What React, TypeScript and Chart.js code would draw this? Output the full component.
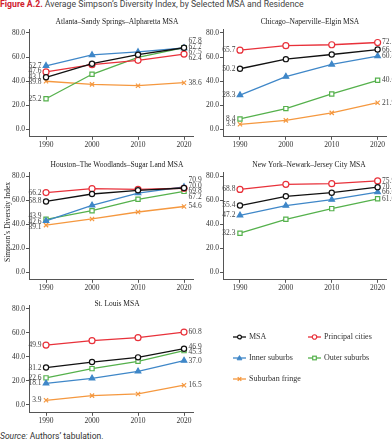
import React, { useEffect, useRef } from "react";
import { Chart, registerables } from "chart.js";
Chart.register(...registerables);

// ---------- data ----------
const years = [1990, 2000, 2010, 2020];
const seriesNames = ["MSA", "Principal cities", "Inner suburbs", "Outer suburbs", "Suburban fringe"];
const yTicks = [0, 20, 40, 60, 80];

const atlantaMSA = [43.1, 54.4, 61.9, 67.7];
const atlantaPrincipal = [47.6, 53.6, 57.2, 62.4];
const atlantaInner = [52.7, 61.7, 64.2, 67.5];
const atlantaOuter = [25.2, 45.6, 59.7, 67.8];
const atlantaFringe = [39.8, 37.2, 36.1, 38.6];

const chicagoMSA = [50.2, 58.2, 62.1, 66.2];
const chicagoPrincipal = [65.7, 69.4, 70.2, 72.1];
const chicagoInner = [28.3, 43.7, 53.8, 60.8];
const chicagoOuter = [8.4, 17.0, 29.2, 40.6];
const chicagoFringe = [3.9, 7.2, 13.4, 21.9];

const houstonMSA = [58.8, 65.0, 68.1, 70.0];
const houstonPrincipal = [66.2, 69.4, 68.9, 69.8];
const houstonInner = [42.6, 55.6, 65.8, 70.9];
const houstonOuter = [43.9, 51.1, 60.6, 67.2];
const houstonFringe = [39.1, 44.2, 50.0, 54.6];

const newYorkMSA = [55.4, 63.1, 66.1, 70.7];
const newYorkPrincipal = [68.8, 73.1, 73.6, 75.9];
const newYorkInner = [47.2, 55.3, 60.3, 66.6];
const newYorkOuter = [32.3, 43.9, 52.8, 61.0];

const stLouisMSA = [31.2, 35.8, 39.7, 46.9];
const stLouisPrincipal = [49.9, 53.6, 56.1, 60.8];
const stLouisInner = [18.1, 22.2, 28.1, 37.0];
const stLouisOuter = [22.6, 30.3, 36.4, 45.3];
const stLouisFringe = [3.9, 7.8, 9.2, 16.5];

// ---------- styles ----------
const SERIF = "'Liberation Serif', 'DejaVu Serif', serif";
const STYLES = [
  { color: "#111111", pointStyle: "circle", radius: 2.6, fill: "#ffffff" },
  { color: "#e8313a", pointStyle: "circle", radius: 3, fill: "#ffffff" },
  { color: "#3f87c8", pointStyle: "triangle", radius: 3.2, fill: "#3f87c8" },
  { color: "#55b14c", pointStyle: "rect", radius: 3, fill: "#ffffff" },
  { color: "#f5983f", pointStyle: "crossRot", radius: 3, fill: "#f5983f" },
];

const panels = [
  { title: "Atlanta–Sandy Springs–Alpharetta MSA", series: [atlantaMSA, atlantaPrincipal, atlantaInner, atlantaOuter, atlantaFringe], side: "L", y80: 33, titleX: 117, titleY: 22 },
  { title: "Chicago–Naperville–Elgin MSA", series: [chicagoMSA, chicagoPrincipal, chicagoInner, chicagoOuter, chicagoFringe], side: "R", y80: 33, titleX: 310, titleY: 22 },
  { title: "Houston–The Woodlands–Sugar Land MSA", series: [houstonMSA, houstonPrincipal, houstonInner, houstonOuter, houstonFringe], side: "L", y80: 176, titleX: 117, titleY: 165 },
  { title: "New York–Newark–Jersey City MSA", series: [newYorkMSA, newYorkPrincipal, newYorkInner, newYorkOuter, null], side: "R", y80: 176, titleX: 309, titleY: 165 },
  { title: "St. Louis MSA", series: [stLouisMSA, stLouisPrincipal, stLouisInner, stLouisOuter, stLouisFringe], side: "L", y80: 309, titleX: 117, titleY: 304 },
];

const Y_MIN = -6.5;
const Y_MAX = 83;
const X_MIN = 1986.3;
const X_MAX = 2022;
const PX_PER_UNIT = 1.2;
const AREA_H = (Y_MAX - Y_MIN) * PX_PER_UNIT;
const XAXIS_H = 14;

function spread(items: any[], gap: number) {
  items.sort((a, b) => a.y - b.y);
  const blocks: any[] = [];
  const topOf = (b: any) => b.sum / b.items.length - ((b.items.length - 1) * gap) / 2;
  for (const it of items) {
    blocks.push({ items: [it], sum: it.y });
    while (blocks.length > 1) {
      const b = blocks[blocks.length - 1];
      const a = blocks[blocks.length - 2];
      if (topOf(a) + a.items.length * gap > topOf(b)) {
        a.items = a.items.concat(b.items);
        a.sum += b.sum;
        blocks.pop();
      } else break;
    }
  }
  blocks.forEach((b) => {
    const t = topOf(b);
    b.items.forEach((it: any, k: number) => (it.ly = t + k * gap));
  });
}

const endLabels = {
  id: "endLabels",
  afterDatasetsDraw(chart: any) {
    const ctx = chart.ctx;
    const left: any[] = [];
    const right: any[] = [];
    chart.data.datasets.forEach((ds: any, i: number) => {
      const pts = chart.getDatasetMeta(i).data;
      const a = pts[0];
      const b = pts[pts.length - 1];
      left.push({ x: a.x, y: a.y, text: ds.data[0].y.toFixed(1) });
      right.push({ x: b.x, y: b.y, text: ds.data[ds.data.length - 1].y.toFixed(1) });
    });
    spread(left, 5.6);
    spread(right, 5.6);
    ctx.save();
    ctx.font = `7.5px ${SERIF}`;
    ctx.fillStyle = "#444";
    ctx.textBaseline = "middle";
    ctx.textAlign = "right";
    left.forEach((l) => ctx.fillText(l.text, l.x - 4.5, l.ly));
    ctx.textAlign = "left";
    right.forEach((r) => ctx.fillText(r.text, r.x + 4.5, r.ly));
    ctx.restore();
  },
};

function Panel({ p }: { p: any }) {
  const ref = useRef<HTMLCanvasElement>(null);
  const isL = p.side === "L";
  const canvasLeft = isL ? 0 : 196;
  const width = isL ? 212 : 196;
  const plotLeft = isL ? 29 : 223;
  const pxPerYear = 4.6;
  const plotRight = plotLeft + (X_MAX - X_MIN) * pxPerYear;
  const plotTop = p.y80 - (Y_MAX - 80) * PX_PER_UNIT;
  const canvasTop = Math.floor(plotTop - 6);
  const padTop = plotTop - canvasTop;
  const height = Math.ceil(padTop + AREA_H + XAXIS_H + 1);
  const padBottom = height - padTop - AREA_H - XAXIS_H;

  useEffect(() => {
    const datasets: any[] = [];
    p.series.forEach((vals: number[] | null, i: number) => {
      if (!vals) return;
      const s = STYLES[i];
      datasets.push({
        label: seriesNames[i],
        data: vals.map((v, j) => ({ x: years[j], y: v })),
        borderColor: s.color,
        backgroundColor: s.fill,
        pointBackgroundColor: s.fill,
        pointBorderColor: s.color,
        pointStyle: s.pointStyle,
        pointRadius: s.radius,
        pointBorderWidth: 1.2,
        borderWidth: 1.3,
        tension: 0,
        clip: false,
      });
    });
    const chart = new Chart(ref.current as HTMLCanvasElement, {
      type: "line",
      data: { datasets },
      options: {
        animation: false,
        responsive: false,
        events: [],
        layout: {
          padding: { left: 0, right: width - (plotRight - canvasLeft), top: padTop, bottom: padBottom },
        },
        plugins: { legend: { display: false }, tooltip: { enabled: false }, title: { display: false } },
        scales: {
          x: {
            type: "linear",
            min: X_MIN,
            max: X_MAX,
            afterBuildTicks: (s: any) => {
              s.ticks = years.map((v) => ({ value: v }));
            },
            afterFit: (s: any) => {
              s.height = XAXIS_H;
            },
            ticks: {
              callback: (v: any) => String(v),
              font: { family: SERIF, size: 7.5 },
              color: "#333",
              padding: 1,
              maxRotation: 0,
            },
            grid: { drawOnChartArea: false, drawTicks: true, tickLength: 3, color: "#555" },
            border: { display: true, color: "#555", width: 1 },
          },
          y: {
            type: "linear",
            min: Y_MIN,
            max: Y_MAX,
            afterBuildTicks: (s: any) => {
              s.ticks = yTicks.map((v) => ({ value: v }));
            },
            afterFit: (s: any) => {
              s.width = plotLeft - canvasLeft;
            },
            ticks: {
              callback: (v: any) => Number(v).toFixed(1),
              font: { family: SERIF, size: 7.5 },
              color: "#333",
              padding: 1,
            },
            grid: { drawOnChartArea: false, drawTicks: true, tickLength: 3, color: "#555" },
            border: { display: true, color: "#555", width: 1 },
          },
        },
      } as any,
      plugins: [endLabels],
    });
    return () => chart.destroy();
  }, []);

  return (
    <>
      <canvas
        ref={ref}
        width={width}
        height={height}
        style={{ position: "absolute", left: canvasLeft, top: canvasTop, width, height }}
      />
      <div
        style={{
          position: "absolute",
          left: p.titleX - 110,
          width: 220,
          top: p.titleY - 5,
          height: 10,
          lineHeight: "10px",
          textAlign: "center",
          fontFamily: SERIF,
          fontSize: 7.5,
          color: "#222",
          whiteSpace: "nowrap",
        }}
      >
        {p.title}
      </div>
    </>
  );
}

function LegendItem({ i, x, y }: { i: number; x: number; y: number }) {
  const s = STYLES[i];
  const c = 6.5;
  const cy = 5;
  const r = s.radius * 0.75;
  let m: any = null;
  if (s.pointStyle === "circle") m = <circle cx={c} cy={cy} r={r} fill={s.fill} stroke={s.color} strokeWidth={1.2} />;
  else if (s.pointStyle === "triangle")
    m = <polygon points={`${c},${cy - r} ${c - r},${cy + r * 0.75} ${c + r},${cy + r * 0.75}`} fill={s.fill} stroke={s.color} strokeWidth={1} />;
  else if (s.pointStyle === "rect")
    m = <rect x={c - r * 0.8} y={cy - r * 0.8} width={r * 1.6} height={r * 1.6} fill={s.fill} stroke={s.color} strokeWidth={1.2} />;
  else
    m = (
      <g stroke={s.color} strokeWidth={1.3}>
        <line x1={c - 1.8} y1={cy - 1.8} x2={c + 1.8} y2={cy + 1.8} />
        <line x1={c - 1.8} y1={cy + 1.8} x2={c + 1.8} y2={cy - 1.8} />
      </g>
    );
  return (
    <>
      <svg width={13} height={10} style={{ position: "absolute", left: x, top: y - 5 }}>
        <line x1={0} y1={cy} x2={13} y2={cy} stroke={s.color} strokeWidth={1.3} />
        {m}
      </svg>
      <div
        style={{
          position: "absolute",
          left: x + 16,
          top: y - 5,
          height: 10,
          lineHeight: "10px",
          fontFamily: SERIF,
          fontSize: 8,
          color: "#333",
          whiteSpace: "nowrap",
        }}
      >
        {seriesNames[i]}
      </div>
    </>
  );
}

export default function App() {
  return (
    <div style={{ position: "fixed", left: 0, top: 0, width: 392, height: 440, background: "#fff", overflow: "hidden" }}>
      <div
        style={{
          position: "absolute",
          left: 0,
          top: -1,
          fontFamily: "Roboto, 'Liberation Sans', sans-serif",
          fontSize: 8.7,
          lineHeight: "10px",
          color: "#444",
          whiteSpace: "nowrap",
        }}
      >
        <span style={{ color: "#d0202e", fontWeight: 700 }}>Figure A.2.</span> Average Simpson’s Diversity Index, by Selected MSA and Residence
      </div>
      {panels.map((p, k) => (
        <Panel key={k} p={p} />
      ))}
      <div
        style={{
          position: "absolute",
          left: 8 - 60,
          top: 222 - 5,
          width: 120,
          height: 10,
          lineHeight: "10px",
          textAlign: "center",
          transform: "rotate(-90deg)",
          fontFamily: SERIF,
          fontSize: 7.5,
          color: "#222",
          whiteSpace: "nowrap",
        }}
      >
        Simpson’s Diversity Index
      </div>
      <LegendItem i={0} x={233} y={337} />
      <LegendItem i={1} x={308} y={337} />
      <LegendItem i={2} x={233} y={357.5} />
      <LegendItem i={3} x={308} y={357.5} />
      <LegendItem i={4} x={233} y={379} />
      <div
        style={{
          position: "absolute",
          left: 0,
          top: 431,
          fontFamily: "Roboto, 'Liberation Sans', sans-serif",
          fontSize: 8.5,
          lineHeight: "10px",
          color: "#333",
          whiteSpace: "nowrap",
        }}
      >
        <i>Source:</i> Authors’ tabulation.
      </div>
    </div>
  );
}
